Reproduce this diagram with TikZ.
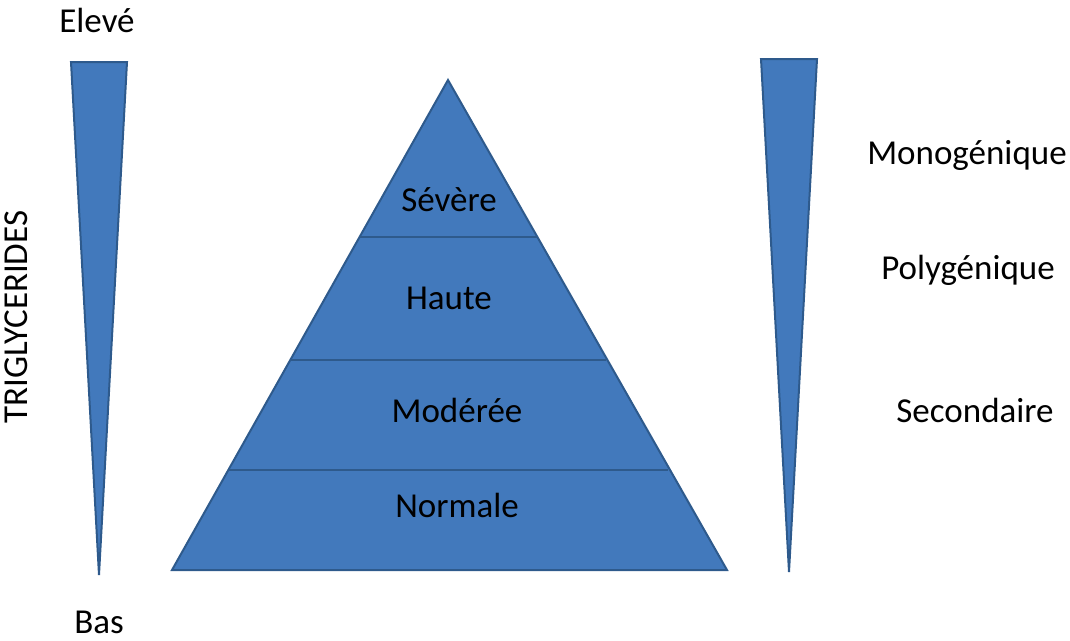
\documentclass[tikz,border=0pt]{standalone}
\usepackage{fontspec}
\setmainfont{Carlito}
\begin{document}
\begin{tikzpicture}[x=1pt,y=-1pt,
  shapefill/.style={fill=blueF, draw=blueD, line width=2pt, line join=miter},
  lbl/.style={font=\fontsize{35}{40}\selectfont, text=black, inner sep=0pt},
  sep/.style={draw=blueD, line width=1.2pt}]
\definecolor{blueF}{HTML}{4279BC}
\definecolor{blueD}{HTML}{2E5A8C}
\useasboundingbox (0,0) rectangle (1070,640);
% pyramid
\coordinate (apex) at (448,80);
\coordinate (bl) at (172,570);
\coordinate (br) at (727,570);
\path[shapefill] (apex) -- (br) -- (bl) -- cycle;
\draw[sep] (360,237) -- (537,237);
\draw[sep] (290,360) -- (606,360);
\draw[sep] (228,470) -- (668,470);
\node[lbl] (s1) at (449,200) {Sévère};
\node[lbl] (s2) at (449,298) {Haute};
\node[lbl] (s3) at (457,410) {Modérée};
\node[lbl] (s4) at (457,505) {Normale};
% left wedge
\path[shapefill] (71,62) -- (127,62) -- (99,575) -- cycle;
\node[lbl] (top) at (97,20) {Elevé};
\node[lbl] (bot) at (99,622) {Bas};
\node[lbl, rotate=90] (tg) at (16,317) {TRIGLYCERIDES};
% right wedge
\path[shapefill] (761,59) -- (817,59) -- (789,572) -- cycle;
\node[lbl] (r1) at (967,155) {Monogénique};
\node[lbl] (r2) at (968,270) {Polygénique};
\node[lbl] (r3) at (975,410) {Secondaire};
\end{tikzpicture}
\end{document}
